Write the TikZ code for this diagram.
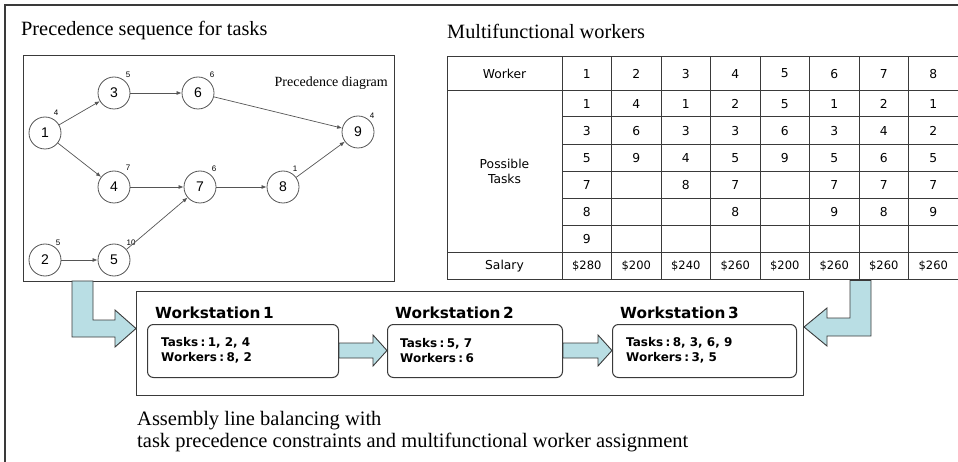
\documentclass[tikz,border=0pt]{standalone}
\usepackage{fontspec}
\setmainfont{Liberation Serif}
\setsansfont{DejaVu Sans}
\newfontfamily\arialfont{Liberation Sans}
\usetikzlibrary{arrows.meta}

\definecolor{framegray}{HTML}{3A3A3A}
\definecolor{edgegray}{HTML}{555555}
\definecolor{arrowfill}{HTML}{B9DEE4}

% tight spacing around the colon in workstation entries
\newcommand{\wscolon}{\hspace{0.2em}:\hspace{0.2em}}

\tikzset{
  title/.style={anchor=west, inner sep=0pt, font=\fontsize{20.3}{22}\selectfont},
  task/.style={circle, draw=edgegray, line width=0.8pt, minimum size=32pt, inner sep=0pt,
               font=\arialfont\fontsize{14}{14}\selectfont},
  weight/.style={inner sep=0pt, font=\arialfont\fontsize{8}{8}\selectfont},
  prec/.style={draw=edgegray, line width=0.7pt, -{Latex[length=5pt,width=4pt]}},
  cell/.style={inner sep=0pt, font=\sffamily\fontsize{12.3}{12}\selectfont},
  tline/.style={draw=framegray, line width=1pt},
  wsbox/.style={draw=framegray, line width=1pt, rounded corners=6pt},
  wshead/.style={anchor=west, inner sep=0pt, font=\sffamily\bfseries\fontsize{15.3}{15}\selectfont},
  wstext/.style={anchor=west, inner sep=0pt, align=left,
                 font=\sffamily\bfseries\fontsize{12}{15}\selectfont},
  blockarrow/.style={fill=arrowfill, draw=framegray, line width=0.9pt, line join=miter},
}

\begin{document}
\begin{tikzpicture}[x=1pt, y=-1pt]
\useasboundingbox (0,0) rectangle (958,462);

% outer frame (runs off the right and bottom edges)
\draw[framegray, line width=1.2pt] (5,470) -- (5,5) -- (970,5);

% ---------- headings ----------
\node[title] (titlePrec) at (21,31) {Precedence sequence for tasks};
\node[title] (titleWork) at (447,31) {Multifunctional workers};

% ---------- precedence diagram ----------
\node[draw=framegray, line width=1pt, anchor=north west, minimum width=371pt,
      minimum height=226pt, inner sep=0pt] (precbox) at (23,55) {};
\node[anchor=east, inner sep=0pt, font=\fontsize{14}{14}\selectfont] (precLabel)
  at (388,83) {Precedence diagram};

\node[task] (t1) at (45,133) {1};
\node[task] (t3) at (114,93) {3};
\node[task] (t6) at (198,93) {6};
\node[task] (t9) at (358,132) {9};
\node[task] (t4) at (114,187) {4};
\node[task] (t7) at (200,187) {7};
\node[task] (t8) at (283,187) {8};
\node[task] (t2) at (45,260) {2};
\node[task] (t5) at (114,260) {5};

\node[weight] (w1) at (56,113) {4};
\node[weight] (w3) at (128,75) {5};
\node[weight] (w6) at (212,75) {6};
\node[weight] (w9) at (372,116) {4};
\node[weight] (w4) at (128,168) {7};
\node[weight] (w7) at (214,169) {6};
\node[weight] (w8) at (295,169) {1};
\node[weight] (w2) at (58,243) {5};
\node[weight] (w5) at (131,243) {10};

\draw[prec] (t1) -- (t3);
\draw[prec] (t1) -- (t4);
\draw[prec] (t3) -- (t6);
\draw[prec] (t6) -- (t9);
\draw[prec] (t4) -- (t7);
\draw[prec] (t7) -- (t8);
\draw[prec] (t8) -- (t9);
\draw[prec] (t2) -- (t5);
\draw[prec] (t5) -- (t7);

% ---------- worker table ----------
% grid
\foreach \y in {57,90.3,252.3,280} \draw[tline] (447,\y) -- (960,\y);
\foreach \y in {117,144.3,171.3,198.7,225.3} \draw[tline] (562,\y) -- (960,\y);
\draw[tline] (447,57) -- (447,280);
\foreach \k in {0,...,7} \draw[tline] ({562+49.5*\k},57) -- ({562+49.5*\k},280);

\node[cell] (hdWorker) at (504.5,73.6) {Worker};
\node[cell, align=center, font=\sffamily\fontsize{12.3}{15.5}\selectfont] (hdTasks) at (504.5,171.3) {Possible\\Tasks};
\node[cell] (hdSalary) at (504.5,266.2) {Salary};

\foreach \w/\salary/\tasks [count=\k from 0] in
  {1/280/{1,3,5,7,8,9}, 2/200/{4,6,9}, 3/240/{1,3,4,8}, 4/260/{2,3,5,7,8},
   5/200/{5,6,9}, 6/260/{1,3,5,7,9}, 7/260/{2,4,6,7,8}, 8/260/{1,2,5,7,9}} {
  \node[cell] (wk\w) at ({562+49.5*(\k+0.5)},73.6) {\w};
  \node[cell, font=\sffamily\fontsize{11.5}{12}\selectfont] (sal\w) at ({562+49.5*(\k+0.5)},266.2) {\$\salary};
  \foreach \t [count=\r from 0] in \tasks {
    \node[cell] (cell\w-\r) at ({562+49.5*(\k+0.5)},{103.7+27*\r}) {\t};
  }
}

% ---------- assembly line ----------
\node[draw=framegray, line width=1pt, anchor=north west, minimum width=667pt,
      minimum height=104pt, inner sep=0pt] (wsframe) at (136,291) {};

\node[wsbox, anchor=north west, minimum width=191pt, minimum height=53pt, inner sep=0pt] (ws1) at (147,324) {};
\node[wsbox, anchor=north west, minimum width=175pt, minimum height=53pt, inner sep=0pt] (ws2) at (387,324) {};
\node[wsbox, anchor=north west, minimum width=184pt, minimum height=53pt, inner sep=0pt] (ws3) at (612,324) {};

\node[wshead] (ws1head) at (155,313) {Workstation\,1};
\node[wshead] (ws2head) at (395,313) {Workstation\,2};
\node[wshead] (ws3head) at (620,313) {Workstation\,3};

\node[wstext] (ws1text) at (161,350.5) {Tasks\wscolon 1, 2, 4\\Workers\wscolon 8, 2};
\node[wstext] (ws2text) at (400,350.5) {Tasks\wscolon 5, 7\\Workers\wscolon 6};
\node[wstext] (ws3text) at (626,350.5) {Tasks\wscolon 8, 3, 6, 9\\Workers\wscolon 3, 5};

% block arrows between workstations
\draw[blockarrow] (ws1.east |- 0,343) -- (373,343) -- (373,335) -- (ws2.west |- 0,350.5)
  -- (373,366) -- (373,358) -- (ws1.east |- 0,358) -- cycle;
\draw[blockarrow] (ws2.east |- 0,343) -- (598,343) -- (598,335) -- (ws3.west |- 0,350.5)
  -- (598,366) -- (598,358) -- (ws2.east |- 0,358) -- cycle;

% feed arrow from the precedence diagram
\draw[blockarrow] (72,281) -- (93,281) -- (93,320) -- (115,320) -- (115,310)
  -- (wsframe.west |- 0,328.5) -- (115,347) -- (115,337) -- (72,337) -- cycle;
% feed arrow from the worker table
\draw[blockarrow] (850,280.5) -- (871,280.5) -- (871,336) -- (827,336) -- (827,346)
  -- (wsframe.east |- 0,327) -- (827,308) -- (827,318) -- (850,318) -- cycle;

% ---------- caption ----------
\node[anchor=north west, inner sep=0pt, align=left, font=\fontsize{20.5}{22}\selectfont] (caption)
  at (137,411) {Assembly line balancing with\\task precedence constraints and multifunctional worker assignment};
\end{tikzpicture}
\end{document}
